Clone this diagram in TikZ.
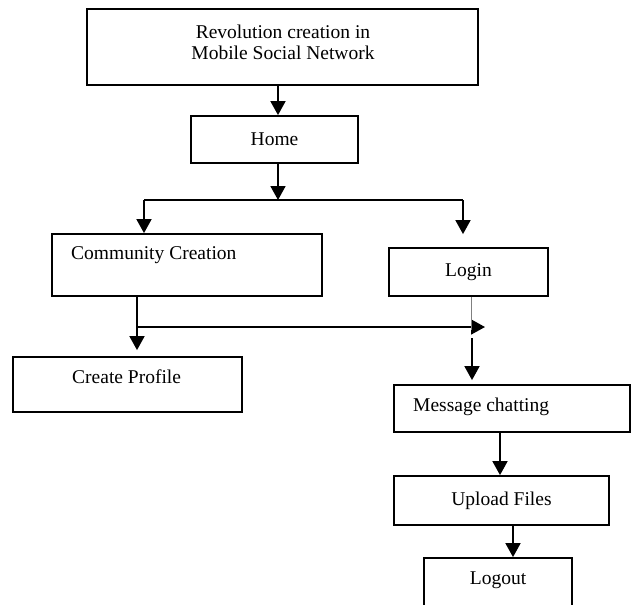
\documentclass[tikz,border=0pt]{standalone}
\usepackage{fontspec}
\setmainfont{Liberation Serif}
\usetikzlibrary{arrows.meta}

\tikzset{
  box/.style={draw, line width=1.8pt, inner sep=0pt},
  txt/.style={font=\fontsize{19.5}{21}\selectfont, inner sep=0pt},
  arr/.style={line width=1.8pt, -{Triangle[width=15pt,length=14pt]}},
}

\begin{document}
\begin{tikzpicture}[x=1pt,y=-1pt]
    \clip (0,0) rectangle (632,605);
    \node[box, minimum width=391pt, minimum height=76pt] (top) at (282.5,47) {};
    \node[txt, align=center] (toptxt) at (283,42)
      {Revolution creation in\\Mobile Social Network};
    \node[box, txt, minimum width=167pt, minimum height=47pt] (home) at (274.5,139.5) {Home};
    \node[box, minimum width=270pt, minimum height=62pt] (comm) at (187,265) {};
    \node[txt, anchor=west] (commtxt) at (71,255) {Community Creation};
    \node[box, txt, minimum width=159pt, minimum height=48pt] (login) at (468.5,272) {Login};
    \node[box, minimum width=229pt, minimum height=55pt] (profile) at (127.5,384.5) {};
    \node[txt, anchor=west] (profiletxt) at (72,377) {Create Profile};
    \node[box, minimum width=236pt, minimum height=47pt] (msg) at (512,408.5) {};
    \node[txt, anchor=west] (msgtxt) at (413,407) {Message chatting};
    \node[box, txt, minimum width=215pt, minimum height=49pt] (upload) at (501.5,500.5) {Upload Files};
    \node[box, minimum width=148pt, minimum height=57pt] (logout) at (498,586.5) {};
    \node[txt] (logouttxt) at (498,580) {Logout};

    \coordinate (split) at (278,200);
    \coordinate (lsplit) at (144,200);
    \coordinate (rsplit) at (463,200);
    \coordinate (cdrop) at (137,327);
    \coordinate (cend) at (485,327);
    \coordinate (tick) at (471,330);
    \coordinate (mstart) at (472,338);
    \coordinate (xa) at (500,0);
    \coordinate (xb) at (513,0);

    \draw[arr] (top.south -| split) -- (home.north -| split);
    \draw[arr] (home.south -| split) -- (split);
    \draw[line width=1.8pt] (lsplit) -- (rsplit);
    \draw[arr] (lsplit) -- (comm.north -| lsplit);
    \draw[arr, shorten >=13pt] (rsplit) -- (login.north -| rsplit);
    \draw[arr, shorten >=6pt] (comm.south -| cdrop) -- (profile.north -| cdrop);
    \draw[arr] (cdrop) -- (cend);
    \draw[gray, line width=0.8pt] (login.south -| tick) -- (tick);
    \draw[arr, shorten >=4pt] (mstart) -- (msg.north -| mstart);
    \draw[arr] (msg.south -| xa) -- (upload.north -| xa);
    \draw[arr] (upload.south -| xb) -- (logout.north -| xb);
\end{tikzpicture}
\end{document}
